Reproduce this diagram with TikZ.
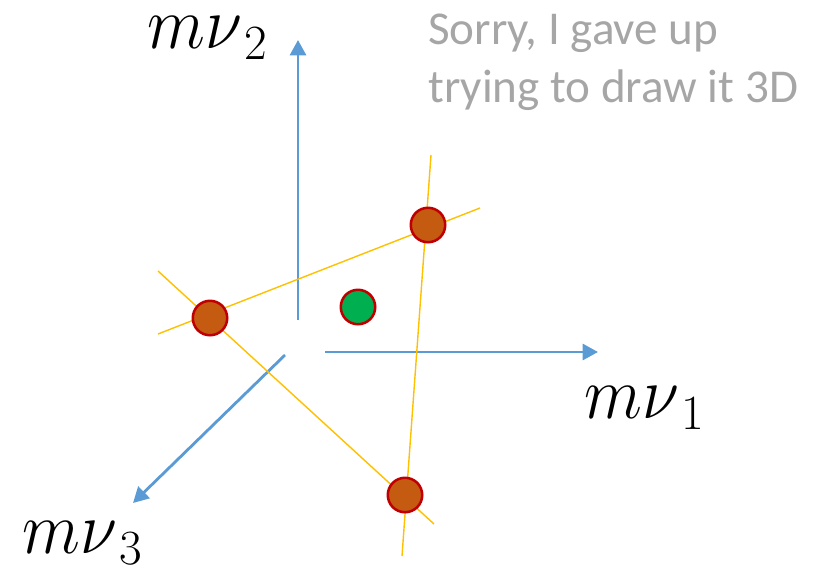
\RequirePackage{fix-cm}
\documentclass[tikz,border=0pt]{standalone}
\usepackage{graphicx}
\usepackage{fontspec}
\newfontfamily\notefont{Carlito}
\usepackage{tikz}
\usetikzlibrary{arrows.meta}
\definecolor{axisblue}{HTML}{5B9BD5}
\definecolor{lineyellow}{HTML}{FFC000}
\definecolor{dotfill}{HTML}{C55A11}
\definecolor{dotedge}{HTML}{C00000}
\definecolor{greenfill}{HTML}{00B050}
\definecolor{notegray}{HTML}{A6A6A6}
\newcommand{\masslabel}[1]{\scalebox{1.2}[1.32]{$m\nu$}\kern1.5pt\raisebox{-8.5pt}{\fontsize{35}{35}\selectfont$#1$}}
\tikzset{
  axis/.style={axisblue, line width=2pt, -{Triangle[length=11pt, width=11.5pt]}},
  fitline/.style={lineyellow, line width=1pt},
  pointdot/.style={circle, draw=dotedge, line width=1.8pt, fill=dotfill, minimum size=24.5pt, inner sep=0pt},
  truedot/.style={pointdot, fill=greenfill},
  axislabel/.style={font=\fontsize{40}{44}\selectfont, inner sep=0pt, anchor=base west}
}

\begin{document}
\begin{tikzpicture}[x=0.025cm, y=-0.025cm]
  \useasboundingbox (0,0) rectangle (828,568);
  % axes
  \coordinate (o2) at (298,320);
  \coordinate (e2) at (298,40);
  \coordinate (o1) at (325,352);
  \coordinate (e1) at (598,352);
  \coordinate (o3) at (285,355);
  \coordinate (e3) at (133,503);
  \draw[axis] (o2) -- (e2);
  \draw[axis] (o1) -- (e1);
  \draw[axis] (o3) -- (e3);
  \node[axislabel] (l2) at (147,48) {\masslabel{2}};
  \node[axislabel] (l1) at (584,418) {\masslabel{1}};
  \node[axislabel] (l3) at (22,553) {\masslabel{3}};
  % fitted lines
  \coordinate (a1) at (158,334);
  \coordinate (a2) at (480,208);
  \coordinate (b1) at (158,271);
  \coordinate (b2) at (434,524);
  \coordinate (c1) at (431,155);
  \coordinate (c2) at (402,556);
  \draw[fitline] (a1) -- (a2);
  \draw[fitline] (b1) -- (b2);
  \draw[fitline] (c1) -- (c2);
  % points
  \node[pointdot] (p1) at (428,225) {};
  \node[pointdot] (p2) at (210,318) {};
  \node[pointdot] (p3) at (405,495) {};
  \node[truedot] (p0) at (358,307) {};
  % note
  \node[anchor=north west, align=left, text=notegray, inner sep=0pt,
        font=\notefont\fontsize{33.5}{41}\selectfont] (note) at (428,14)
    {Sorry, I gave up\\trying to draw it 3D};
\end{tikzpicture}
\end{document}
